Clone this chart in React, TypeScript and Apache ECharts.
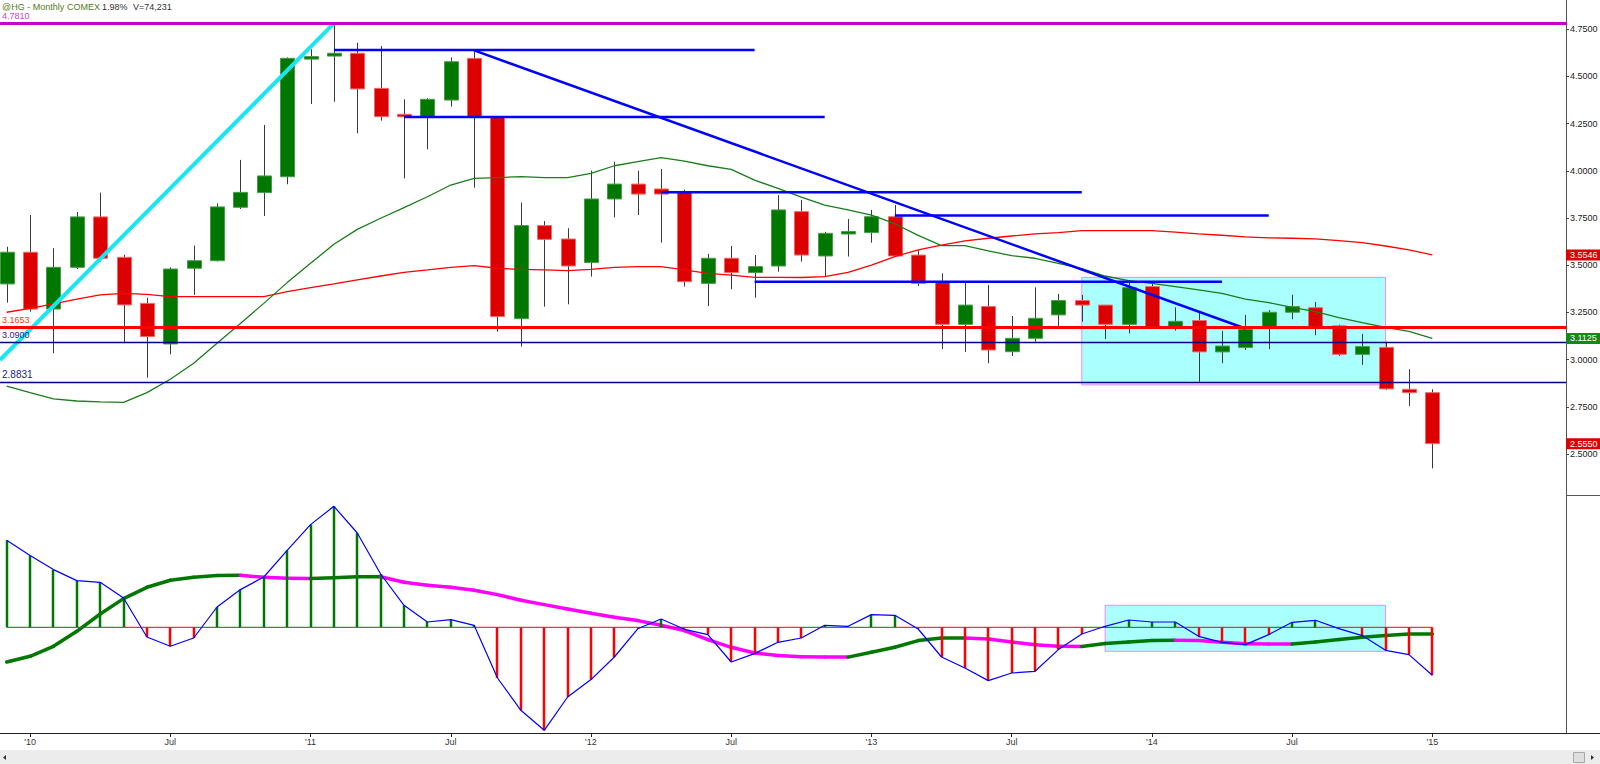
import React, { useEffect, useRef } from 'react';
import * as echarts from 'echarts';

// ---------- DATA ----------
const months = [
  'Dec 2009',
  'Jan 2010', 'Feb 2010', 'Mar 2010', 'Apr 2010', 'May 2010', 'Jun 2010', 'Jul 2010', 'Aug 2010', 'Sep 2010', 'Oct 2010', 'Nov 2010', 'Dec 2010',
  'Jan 2011', 'Feb 2011', 'Mar 2011', 'Apr 2011', 'May 2011', 'Jun 2011', 'Jul 2011', 'Aug 2011', 'Sep 2011', 'Oct 2011', 'Nov 2011', 'Dec 2011',
  'Jan 2012', 'Feb 2012', 'Mar 2012', 'Apr 2012', 'May 2012', 'Jun 2012', 'Jul 2012', 'Aug 2012', 'Sep 2012', 'Oct 2012', 'Nov 2012', 'Dec 2012',
  'Jan 2013', 'Feb 2013', 'Mar 2013', 'Apr 2013', 'May 2013', 'Jun 2013', 'Jul 2013', 'Aug 2013', 'Sep 2013', 'Oct 2013', 'Nov 2013', 'Dec 2013',
  'Jan 2014', 'Feb 2014', 'Mar 2014', 'Apr 2014', 'May 2014', 'Jun 2014', 'Jul 2014', 'Aug 2014', 'Sep 2014', 'Oct 2014', 'Nov 2014', 'Dec 2014',
  'Jan 2015',
];

const openP = [
  3.401, 3.569, 3.268, 3.489, 3.756, 3.542, 3.298, 3.083, 3.484, 3.524, 3.807, 3.885, 3.969,
  4.596, 4.608, 4.623, 4.437, 4.299, 4.287, 4.375, 4.596, 4.287, 3.217, 3.710, 3.639,
  3.514, 3.851, 3.930, 3.904, 3.886, 3.404, 3.537, 3.461, 3.496, 3.784, 3.549, 3.666,
  3.673, 3.757, 3.554, 3.408, 3.187, 3.281, 3.042, 3.113, 3.237, 3.313, 3.289, 3.187,
  3.387, 3.175, 3.207, 3.041, 3.064, 3.175, 3.251, 3.275, 3.179, 3.028, 3.065, 2.843,
  2.825,
];
const highP = [
  3.598, 3.766, 3.590, 3.782, 3.885, 3.555, 3.328, 3.489, 3.604, 3.828, 4.058, 4.243, 4.601,
  4.644, 4.781, 4.679, 4.661, 4.379, 4.385, 4.601, 4.631, 4.290, 3.832, 3.734, 3.696,
  4.001, 4.049, 4.001, 4.010, 3.900, 3.560, 3.602, 3.554, 3.872, 3.846, 3.677, 3.745,
  3.793, 3.819, 3.580, 3.457, 3.408, 3.395, 3.231, 3.383, 3.348, 3.343, 3.290, 3.421,
  3.408, 3.277, 3.254, 3.152, 3.237, 3.263, 3.343, 3.305, 3.185, 3.136, 3.095, 2.949,
  2.843,
];
const lowP = [
  3.302, 3.254, 3.034, 3.480, 3.519, 3.087, 2.905, 3.028, 3.343, 3.520, 3.798, 3.761, 3.929,
  4.354, 4.366, 4.199, 4.266, 3.960, 4.114, 4.340, 3.911, 3.148, 3.069, 3.281, 3.293,
  3.440, 3.754, 3.766, 3.620, 3.387, 3.284, 3.373, 3.328, 3.466, 3.519, 3.440, 3.546,
  3.620, 3.545, 3.390, 3.056, 3.041, 2.981, 3.019, 3.095, 3.175, 3.201, 3.109, 3.139,
  3.170, 3.154, 2.883, 2.981, 3.051, 3.055, 3.214, 3.129, 3.020, 2.972, 2.840, 2.755,
  2.424,
];
const closeP = [
  3.569, 3.268, 3.489, 3.756, 3.537, 3.290, 3.122, 3.480, 3.524, 3.809, 3.886, 3.973, 4.596,
  4.601, 4.623, 4.434, 4.287, 4.287, 4.379, 4.578, 4.287, 3.228, 3.710, 3.637, 3.496,
  3.851, 3.930, 3.877, 3.877, 3.413, 3.537, 3.461, 3.493, 3.793, 3.554, 3.669, 3.678,
  3.757, 3.549, 3.404, 3.187, 3.289, 3.051, 3.113, 3.219, 3.313, 3.289, 3.187, 3.381,
  3.175, 3.203, 3.041, 3.072, 3.161, 3.251, 3.281, 3.175, 3.028, 3.069, 2.845, 2.825,
  2.555,
];

// green (faster) moving average
const maFast = [
  2.860, 2.825, 2.792, 2.781, 2.776, 2.774, 2.825, 2.896, 2.981, 3.087, 3.192, 3.298, 3.408,
  3.510, 3.611, 3.690, 3.749, 3.805, 3.863, 3.925, 3.960, 3.964, 3.969, 3.964, 3.964,
  3.987, 4.027, 4.049, 4.070, 4.052, 4.027, 4.008, 3.951, 3.907, 3.861, 3.819, 3.793,
  3.766, 3.720, 3.658, 3.604, 3.604, 3.576, 3.551, 3.537, 3.510, 3.482, 3.443, 3.418,
  3.404, 3.387, 3.369, 3.351, 3.320, 3.302, 3.277, 3.254, 3.222, 3.196, 3.171, 3.150,
  3.1125,
];
// red (slower) moving average
const maSlow = [
  3.251, 3.272, 3.295, 3.320, 3.343, 3.351, 3.346, 3.334, 3.334, 3.334, 3.334, 3.334, 3.360,
  3.381, 3.401, 3.422, 3.443, 3.462, 3.475, 3.489, 3.498, 3.484, 3.478, 3.475, 3.471,
  3.478, 3.489, 3.493, 3.493, 3.475, 3.457, 3.448, 3.436, 3.436, 3.435, 3.440, 3.462,
  3.501, 3.546, 3.581, 3.607, 3.629, 3.643, 3.655, 3.666, 3.673, 3.683, 3.683, 3.683,
  3.683, 3.675, 3.666, 3.659, 3.650, 3.645, 3.643, 3.640, 3.630, 3.620, 3.602, 3.581,
  3.5546,
];

// MACD panel (relative units)
const macdLine = [
  87.0, 71.7, 57.7, 46.7, 45.0, 29.3, -9.7, -19.0, -10.7, 20.3, 37.7, 50.3, 77.0,
  102.7, 121.0, 94.3, 53.3, 22.0, 5.3, 7.7, 2.0, -50.7, -83.0, -103.0, -69.7,
  -52.3, -29.7, -1.5, 8.3, -2.0, -7.3, -34.7, -26.3, -15.0, -10.7, 2.0, 1.0,
  12.7, 12.0, -1.7, -29.7, -40.7, -53.3, -45.7, -44.0, -22.3, -6.7, 1.0, 7.3,
  5.3, 5.3, -9.0, -15.0, -17.3, -7.3, 5.0, 7.0, -1.3, -8.3, -23.0, -27.3,
  -48.0,
];
const macdSignal = [
  -34.7, -29.0, -19.0, -4.0, 13.3, 28.7, 40.0, 47.0, 50.0, 51.7, 52.0, 50.0, 49.0,
  48.7, 49.5, 50.5, 50.6, 45.0, 42.0, 40.0, 37.0, 32.7, 27.0, 22.7, 18.3,
  14.0, 10.0, 6.7, 2.0, -3.3, -12.3, -20.0, -25.7, -28.3, -29.5, -29.7, -29.8,
  -25.0, -20.0, -13.3, -10.7, -10.6, -11.7, -14.7, -17.5, -19.0, -19.1, -16.3, -14.7,
  -13.3, -13.0, -13.3, -15.0, -16.5, -16.7, -16.8, -14.7, -12.3, -10.0, -8.3, -6.7,
  -6.6,
];

const xTickIndex = [1, 7, 13, 19, 25, 31, 37, 43, 49, 55, 61];
const xTickLabels = ["'10", 'Jul', "'11", 'Jul', "'12", 'Jul', "'13", 'Jul', "'14", 'Jul', "'15"];
const priceTicks = [2.5, 2.75, 3.0, 3.25, 3.5, 3.75, 4.0, 4.25, 4.5, 4.75];

// horizontal levels across the whole chart
const levelTop = 4.781;
const levelRed = 3.1653;
const levelNavyA = 3.09;
const levelNavyB = 2.8831;

// drawn blue horizontal segments: [fromIndex, toIndex, price]
const blueSegments = [
  [14, 32, 4.640],
  [17, 35, 4.285],
  [28, 46, 3.886],
  [38, 54, 3.763],
  [32, 52, 3.413],
];
const downTrend = [[20, 4.638], [53, 3.165]];
const upTrend = [[-0.29, 2.998], [14, 4.781]];
const priceBox = [46, 2.866, 59, 3.436];
const macdBox = [47, -24, 59, 22];

const header = [
  { text: '@HG - Monthly', x: 2, color: '#557a22' },
  { text: 'COMEX', x: 67, color: '#557a22' },
  { text: '1.98%', x: 102, color: '#333333' },
  { text: 'V=74,231', x: 133, color: '#333333' },
];

const FONT = '"Liberation Sans", Arial, sans-serif';

export default function App() {
  const ref = useRef<HTMLDivElement>(null);

  useEffect(() => {
    if (!ref.current) return;
    const chart = echarts.init(ref.current, undefined, { renderer: 'svg' });
    const last = months.length - 1;
    const xMin = -0.287;
    const xMax = 66.72;

    const candleData = months.map((_, i) => [i, openP[i], highP[i], lowP[i], closeP[i]]);

    const levelLabel = (value: number, color: string, size: number) => ({
      show: true,
      position: 'insideStartTop',
      distance: [2, 3],
      color,
      fontSize: size,
      fontFamily: FONT,
      formatter: () => value.toFixed(4),
    });

    const option: any = {
      animation: false,
      backgroundColor: '#ffffff',
      textStyle: { fontFamily: FONT },
      grid: [
        { left: 0, right: 34, top: 0, height: 495, outerBoundsMode: 'none', containLabel: false },
        { left: 0, right: 34, top: 495, height: 238, outerBoundsMode: 'none', containLabel: false },
      ],
      xAxis: [
        { type: 'value', gridIndex: 0, min: xMin, max: xMax, show: false, splitLine: { show: false } },
        {
          type: 'value', gridIndex: 1, min: xMin, max: xMax,
          splitLine: { show: false },
          axisLine: { show: true, onZero: false, lineStyle: { color: '#222', width: 1 } },
          axisTick: { show: true, length: 4, customValues: xTickIndex, lineStyle: { color: '#222' } },
          axisLabel: {
            show: true, customValues: xTickIndex, margin: 4, fontSize: 9, color: '#333', fontFamily: FONT,
            formatter: (v: number) => {
              const k = xTickIndex.indexOf(Math.round(v));
              return k >= 0 ? xTickLabels[k] : '';
            },
          },
        },
      ],
      yAxis: [
        {
          type: 'value', gridIndex: 0, position: 'right', min: 2.283, max: 4.905,
          splitLine: { show: false },
          axisLine: { show: true, onZero: false, lineStyle: { color: '#555', width: 1 } },
          axisTick: { show: true, length: 3, customValues: priceTicks, lineStyle: { color: '#444' } },
          axisLabel: {
            show: true, customValues: priceTicks, margin: 4, fontSize: 9, color: '#222', fontFamily: FONT,
            formatter: (v: number) => v.toFixed(4),
          },
        },
        {
          type: 'value', gridIndex: 1, position: 'right', min: -105.7, max: 132.3,
          splitLine: { show: false },
          axisLine: { show: true, onZero: false, lineStyle: { color: '#555', width: 1 } },
          axisTick: { show: false },
          axisLabel: { show: false },
        },
      ],
      series: [
        // range box in price panel
        {
          type: 'custom', xAxisIndex: 0, yAxisIndex: 0, z: 1, silent: true,
          data: [priceBox], encode: { x: [0, 2], y: [1, 3] },
          renderItem: (_p: any, api: any) => {
            const a = api.coord([api.value(0), api.value(3)]);
            const b = api.coord([api.value(2), api.value(1)]);
            return {
              type: 'rect',
              shape: { x: a[0], y: a[1], width: b[0] - a[0], height: b[1] - a[1] },
              style: { fill: '#aaffff', stroke: '#ff80ff', lineWidth: 1 },
            };
          },
        },
        // candles
        {
          type: 'custom', xAxisIndex: 0, yAxisIndex: 0, z: 2, silent: true,
          data: candleData, encode: { x: 0, y: [1, 2, 3, 4] },
          renderItem: (_p: any, api: any) => {
            const i = api.value(0);
            const o = api.value(1), h = api.value(2), l = api.value(3), c = api.value(4);
            const up = c >= o;
            const top = api.coord([i, Math.max(o, c)]);
            const bot = api.coord([i, Math.min(o, c)]);
            const hi = api.coord([i, h]);
            const lo = api.coord([i, l]);
            const w = Math.round(api.size([1, 0])[0] * 0.6);
            const cx = Math.round(top[0]);
            let y = top[1];
            let bh = bot[1] - top[1];
            if (bh < 2.5) { y = (top[1] + bot[1]) / 2 - 1.25; bh = 2.5; }
            return {
              type: 'group',
              children: [
                {
                  type: 'line',
                  shape: { x1: cx + 0.5, y1: hi[1], x2: cx + 0.5, y2: lo[1] },
                  style: { stroke: '#3a3a3a', lineWidth: 1 },
                },
                {
                  type: 'rect',
                  shape: { x: cx + 0.5 - w / 2, y, width: w, height: bh },
                  style: {
                    fill: up ? '#007800' : '#dd0000',
                    stroke: up ? '#4a9a4a' : '#ee6a6a',
                    lineWidth: 1,
                  },
                },
              ],
            };
          },
        },
        // red slow MA (carries the horizontal level lines)
        {
          type: 'line', xAxisIndex: 0, yAxisIndex: 0, z: 3, silent: true,
          data: maSlow.map((v, i) => [i, v]), symbol: 'none',
          lineStyle: { color: '#ff0000', width: 1.3 },
          markLine: {
            silent: true, symbol: ['none', 'none'], animation: false,
            data: [
              { yAxis: levelTop, lineStyle: { color: '#c800c8', width: 3, type: 'solid' }, label: levelLabel(levelTop, '#cc44cc', 9) },
              { yAxis: levelRed, lineStyle: { color: '#ff0000', width: 3, type: 'solid' }, label: levelLabel(levelRed, '#ff3333', 9) },
              { yAxis: levelNavyA, lineStyle: { color: '#000080', width: 1.4, type: 'solid' }, label: levelLabel(levelNavyA, '#202090', 9) },
              { yAxis: levelNavyB, lineStyle: { color: '#000080', width: 1.4, type: 'solid' }, label: levelLabel(levelNavyB, '#202090', 10) },
            ],
          },
        },
        // green fast MA
        {
          type: 'line', xAxisIndex: 0, yAxisIndex: 0, z: 3, silent: true,
          data: maFast.map((v, i) => [i, v]), symbol: 'none',
          lineStyle: { color: '#1a7d1a', width: 1.3 },
        },
        // blue horizontal segments
        ...blueSegments.map((s) => ({
          type: 'line', xAxisIndex: 0, yAxisIndex: 0, z: 4, silent: true,
          data: [[s[0], s[2]], [s[1], s[2]]], symbol: 'none',
          lineStyle: { color: '#0000ff', width: 2.5 },
        })),
        // blue down trend
        {
          type: 'line', xAxisIndex: 0, yAxisIndex: 0, z: 4, silent: true,
          data: downTrend, symbol: 'none',
          lineStyle: { color: '#0000ff', width: 2.5 },
        },
        // cyan up trend
        {
          type: 'line', xAxisIndex: 0, yAxisIndex: 0, z: 4, silent: true,
          data: upTrend, symbol: 'none',
          lineStyle: { color: '#1ae6f2', width: 4 },
        },
        // MACD box
        {
          type: 'custom', xAxisIndex: 1, yAxisIndex: 1, z: 1, silent: true,
          data: [macdBox], encode: { x: [0, 2], y: [1, 3] },
          renderItem: (_p: any, api: any) => {
            const a = api.coord([api.value(0), api.value(3)]);
            const b = api.coord([api.value(2), api.value(1)]);
            return {
              type: 'rect',
              shape: { x: a[0], y: a[1], width: b[0] - a[0], height: b[1] - a[1] },
              style: { fill: '#aaffff', stroke: '#ff80ff', lineWidth: 1 },
            };
          },
        },
        // signal line (green rising / magenta falling)
        {
          type: 'custom', xAxisIndex: 1, yAxisIndex: 1, z: 2, silent: true,
          data: macdSignal.slice(1).map((v, k) => [k + 1, v, macdSignal[k]]),
          encode: { x: 0, y: [1, 2] },
          renderItem: (_p: any, api: any) => {
            const i = api.value(0);
            const v = api.value(1);
            const pv = api.value(2);
            const a = api.coord([i - 1, pv]);
            const b = api.coord([i, v]);
            return {
              type: 'line',
              shape: { x1: a[0], y1: a[1], x2: b[0], y2: b[1] },
              style: { stroke: v >= pv ? '#007800' : '#ff00ff', lineWidth: 3.5, lineCap: 'round' },
            };
          },
        },
        // histogram + zero line
        {
          type: 'custom', xAxisIndex: 1, yAxisIndex: 1, z: 3, silent: true,
          data: macdLine.map((v, i) => [i, v]), encode: { x: 0, y: 1 },
          renderItem: (_p: any, api: any) => {
            const i = api.value(0);
            const v = api.value(1);
            const col = v >= 0 ? '#007800' : '#ff0000';
            const base = api.coord([i, 0]);
            const top = api.coord([i, v]);
            const prev = api.coord([i === 0 ? 0 : i - 1, 0]);
            const bx = Math.round(base[0]);
            return {
              type: 'group',
              children: [
                { type: 'line', shape: { x1: prev[0], y1: base[1], x2: base[0], y2: base[1] }, style: { stroke: col, lineWidth: 1 } },
                { type: 'line', shape: { x1: bx, y1: base[1], x2: bx, y2: top[1] }, style: { stroke: col, lineWidth: 2.5 } },
              ],
            };
          },
        },
        // MACD line
        {
          type: 'line', xAxisIndex: 1, yAxisIndex: 1, z: 4, silent: true,
          data: macdLine.map((v, i) => [i, v]), symbol: 'none',
          lineStyle: { color: '#0000ff', width: 1.2 },
        },
      ],
    };

    chart.setOption(option);

    // last-value tags on the price axis, placed through the axis scale
    const tags = [
      { value: maSlow[last], bg: '#dd0000' },
      { value: maFast[last], bg: '#138a13' },
      { value: closeP[last], bg: '#dd0000' },
    ];
    const axisX = chart.convertToPixel({ xAxisIndex: 0 }, xMax) as number;

    const graphics: any[] = [
      ...header.map((h) => ({
        type: 'text', x: h.x, y: 7, silent: true,
        style: { text: h.text, fill: h.color, fontSize: 9, fontFamily: FONT, align: 'left', verticalAlign: 'middle' },
      })),
      { type: 'line', silent: true, shape: { x1: axisX, y1: 495.5, x2: 1600, y2: 495.5 }, style: { stroke: '#555', lineWidth: 1 } },
      { type: 'line', silent: true, shape: { x1: axisX, y1: 733.5, x2: 1600, y2: 733.5 }, style: { stroke: '#222', lineWidth: 1 } },
      { type: 'rect', silent: true, shape: { x: 0, y: 750, width: 1600, height: 14 }, style: { fill: '#ececec' } },
      { type: 'rect', silent: true, shape: { x: 1573.5, y: 752.5, width: 11, height: 10 }, style: { fill: '#dedede', stroke: '#a8a8a8', lineWidth: 1 } },
      { type: 'polygon', silent: true, shape: { points: [[1591, 755], [1594, 757.5], [1591, 760]] }, style: { fill: '#333' } },
      { type: 'polygon', silent: true, shape: { points: [[6, 755], [3, 757.5], [6, 760]] }, style: { fill: '#333' } },
      ...tags.map((t) => {
        const y = chart.convertToPixel({ yAxisIndex: 0 }, t.value) as number;
        return {
          type: 'text', x: axisX, y, z: 100, silent: true,
          style: {
            text: t.value.toFixed(4), fill: '#ffffff', backgroundColor: t.bg,
            padding: [1, 4, 1, 4], fontSize: 9, fontFamily: FONT,
            align: 'left', verticalAlign: 'middle',
          },
        };
      }),
    ];

    chart.setOption({ graphic: graphics });
    return () => chart.dispose();
  }, []);

  return (
    <div
      ref={ref}
      style={{ position: 'fixed', left: 0, top: 0, width: 1600, height: 764, background: '#ffffff' }}
    />
  );
}
